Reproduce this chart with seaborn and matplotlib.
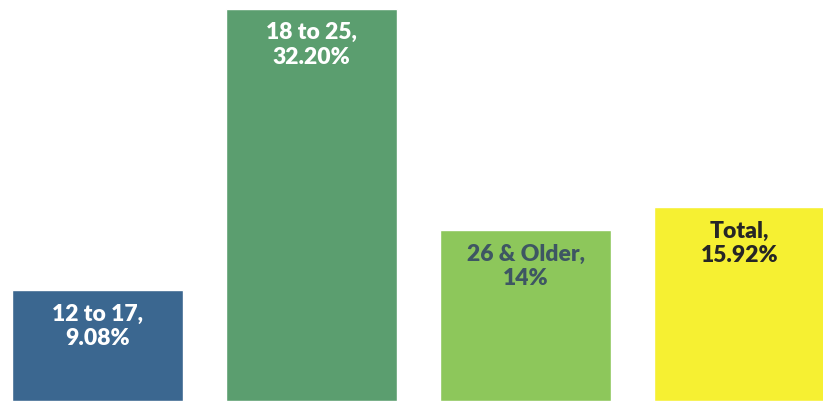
import matplotlib
matplotlib.use("Agg")
import matplotlib.pyplot as plt
import seaborn as sns
import pandas as pd

# data
groups = ["12 to 17", "18 to 25", "26 & Older", "Total"]
values = [9.08, 32.20, 14.0, 15.92]
labels = ["12 to 17,\n9.08%", "18 to 25,\n32.20%", "26 & Older,\n14%", "Total,\n15.92%"]
bar_colors = ["#3b6790", "#5b9e6f", "#8dc75b", "#f6f032"]
text_colors = ["#ffffff", "#ffffff", "#3e5663", "#262626"]

sns.set_style("white")
plt.rcParams["font.family"] = ["Lato", "DejaVu Sans"]

df = pd.DataFrame({"group": groups, "value": values})

fig = plt.figure(figsize=(8.23, 4.02), dpi=100)
ax = fig.add_axes([0, 0, 1, 1])
sns.barplot(data=df, x="group", y="value", hue="group", palette=bar_colors,
            width=0.8, legend=False, ax=ax, saturation=1)

for i, (v, lab, tc) in enumerate(zip(values, labels, text_colors)):
    ax.annotate(lab, xy=(i, v), xytext=(0, -9), textcoords="offset points",
                ha="center", va="top", color=tc, fontsize=16.5, fontweight="heavy",
                linespacing=1.2)

ax.set_xlim(-0.456, 3.39)
ax.set_ylim(0, 33.0)
ax.axis("off")

fig.savefig("out.png", dpi=100)
plt.close(fig)
